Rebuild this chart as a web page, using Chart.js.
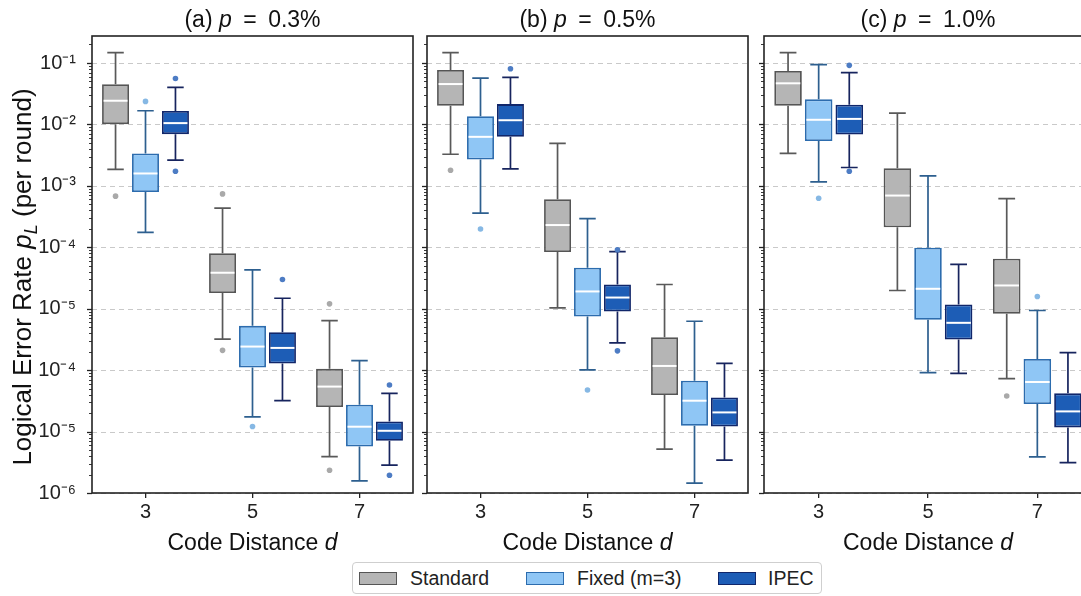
<!DOCTYPE html>
<html lang="en">
<head>
  <meta charset="UTF-8" />
  <title>Logical Error Rate vs Code Distance</title>
  <script src="https://cdn.jsdelivr.net/npm/chart.js"></script>
  <style>
    html, body { margin: 0; padding: 0; background: #fff; overflow: hidden; }
    body {
      width: 1081px;
      height: 596px;
      position: relative;
      font-family: 'Liberation Sans', Arial, sans-serif;
    }
    .panel { position: absolute; top: 0; height: 556px; }
    #pa { left: 0; width: 415px; }
    #pb { left: 420px; width: 330px; }
    #pc { left: 757px; width: 337px; }

    .legend {
      position: absolute;
      left: 352px;
      top: 562px;
      width: 470px;
      height: 32px;
      border: 1px solid #cfcfcf;
      border-radius: 4px;
      box-sizing: border-box;
      background: #fff;
    }
    .legend .sw {
      position: absolute;
      top: 9px;
      width: 38px;
      height: 13px;
      box-sizing: border-box;
      border: 1.5px solid;
    }
    .legend .lb {
      position: absolute;
      top: 4px;
      font-size: 19.5px;
      line-height: 22px;
      color: #222;
    }
  </style>
</head>
<body>
  <div class="panel" id="pa"><canvas id="chartA"></canvas></div>
  <div class="panel" id="pb"><canvas id="chartB"></canvas></div>
  <div class="panel" id="pc"><canvas id="chartC"></canvas></div>

  <div class="legend">
    <div class="sw" style="left:6px;background:#b5b5b5;border-color:#555"></div>
    <div class="lb" style="left:57px">Standard</div>
    <div class="sw" style="left:173px;background:#8fc6f5;border-color:#2c6cae"></div>
    <div class="lb" style="left:224px">Fixed (m=3)</div>
    <div class="sw" style="left:365px;background:#1d5db6;border-color:#10266a"></div>
    <div class="lb" style="left:415px">IPEC</div>
  </div>

  <script>
    // categories / ticks
    const distances = ['3', '5', '7'];
    const panelLetters = ['(a)', '(b)', '(c)'];
    const panelRates = ['0.3%', '0.5%', '1.0%'];
    const yTickValues = [1e-1, 1e-2, 1e-3, 1e-4, 1e-5, 1e-6, 1e-7, 1e-8];
    const yTickLabels = ['10⁻¹', '10⁻²', '10⁻³', '10⁻⁴', '10⁻⁵', '10⁻⁴', '10⁻⁵', '10⁻⁶'];

    // box summaries per distance: [lower whisker, Q1, median, Q3, upper whisker]
    // (a) p = 0.3%
    const standardA = [
      [1.85e-3, 1.01e-2, 2.43e-2, 4.5e-2, 1.47e-1],
      [3.2e-6, 1.8e-5, 3.85e-5, 8.0e-5, 4.35e-4],
      [3.9e-8, 2.5e-7, 5.4e-7, 1.05e-6, 6.4e-6]
    ];
    const fixedA = [
      [1.75e-4, 7.96e-4, 1.59e-3, 3.37e-3, 1.67e-2],
      [1.74e-7, 1.1e-6, 2.42e-6, 5.26e-6, 4.3e-5],
      [1.57e-8, 5.7e-8, 1.2e-7, 2.74e-7, 1.43e-6]
    ];
    const ipecA = [
      [2.62e-3, 6.95e-3, 1.05e-2, 1.65e-2, 4.0e-2],
      [3.18e-7, 1.28e-6, 2.3e-6, 4.14e-6, 1.48e-5],
      [2.84e-8, 7.1e-8, 1.03e-7, 1.46e-7, 4.19e-7]
    ];
    const standardAOut = [[6.8e-4], [7.4e-4, 2.1e-6], [1.2e-5, 2.35e-8]];
    const fixedAOut = [[2.37e-2], [1.21e-7], []];
    const ipecAOut = [[5.6e-2, 1.73e-3], [2.99e-5], [5.74e-7, 1.95e-8]];

    // (b) p = 0.5%
    const standardB = [
      [3.27e-3, 2.01e-2, 4.54e-2, 7.69e-2, 1.47e-1],
      [1.03e-5, 8.36e-5, 2.3e-4, 6.04e-4, 4.9e-3],
      [5.19e-8, 3.94e-7, 1.17e-6, 3.43e-6, 2.48e-5]
    ];
    const fixedB = [
      [3.61e-4, 2.69e-3, 6.28e-3, 1.36e-2, 5.69e-2],
      [1.01e-6, 7.46e-6, 1.91e-5, 4.65e-5, 2.93e-4],
      [1.45e-8, 1.24e-7, 3.18e-7, 6.75e-7, 6.25e-6]
    ];
    const ipecB = [
      [1.89e-3, 6.28e-3, 1.17e-2, 2.14e-2, 5.85e-2],
      [2.78e-6, 9.0e-6, 1.52e-5, 2.48e-5, 8.47e-5],
      [3.43e-8, 1.21e-7, 2.05e-7, 3.6e-7, 1.29e-6]
    ];
    const standardBOut = [[1.79e-3], [], []];
    const fixedBOut = [[1.98e-4], [4.75e-7], []];
    const ipecBOut = [[8.07e-2], [2.06e-6, 9.1e-5], []];

    // (c) p = 1.0%
    const standardC = [
      [3.37e-3, 2.01e-2, 4.67e-2, 7.4e-2, 1.47e-1],
      [1.98e-5, 2.11e-4, 6.95e-4, 1.94e-3, 1.53e-2],
      [7.26e-7, 8.26e-6, 2.39e-5, 6.52e-5, 6.21e-4]
    ];
    const fixedC = [
      [1.16e-3, 5.35e-3, 1.19e-2, 2.56e-2, 9.38e-2],
      [9.1e-7, 6.59e-6, 2.11e-5, 9.84e-5, 1.45e-3],
      [3.88e-8, 2.81e-7, 6.41e-7, 1.52e-6, 9.35e-6]
    ];
    const ipecC = [
      [1.99e-3, 6.87e-3, 1.23e-2, 2.09e-2, 6.95e-2],
      [8.87e-7, 3.15e-6, 5.89e-6, 1.17e-5, 5.26e-5],
      [3.13e-8, 1.17e-7, 2.13e-7, 4.19e-7, 1.93e-6]
    ];
    const standardCOut = [[], [], [3.79e-7]];
    const fixedCOut = [[6.28e-4], [], [1.58e-5]];
    const ipecCOut = [[9.16e-2, 1.73e-3], [], []];

    const FONT = "'Liberation Sans', Arial, sans-serif";
    const seriesStyle = [
      { fill: '#b5b5b5', edge: '#555555', whisker: '#595959', dot: '#a9a9a9' },
      { fill: '#8fc6f5', edge: '#2c6cae', whisker: '#2d5f8f', dot: '#86b8e4' },
      { fill: '#1d5db6', edge: '#10266a', whisker: '#17245e', dot: '#4d7cc4' }
    ];

    function drawRich(ctx, parts, cx, cy, size, rotate) {
      ctx.save();
      ctx.translate(cx, cy);
      if (rotate) ctx.rotate(-Math.PI / 2);
      ctx.fillStyle = '#111';
      ctx.textBaseline = 'alphabetic';
      const fontFor = p => (p.italic ? 'italic ' : '') + (p.sub ? size * 0.7 : size) + 'px ' + FONT;
      let total = 0;
      parts.forEach(p => { ctx.font = fontFor(p); p.w = ctx.measureText(p.text).width; total += p.w; });
      let x = -total / 2;
      parts.forEach(p => {
        ctx.font = fontFor(p);
        ctx.fillText(p.text, x, size * 0.36 + (p.sub ? size * 0.22 : 0));
        x += p.w;
      });
      ctx.restore();
    }

    const boxPlugin = {
      id: 'boxWhiskers',
      beforeDatasetsDraw(chart) {
        const { ctx, chartArea: a, scales: { y } } = chart;
        ctx.save();
        ctx.strokeStyle = '#c9c9c9';
        ctx.lineWidth = 1;
        ctx.setLineDash([5, 4]);
        yTickValues.forEach(v => {
          const py = Math.round(y.getPixelForValue(v)) + 0.5;
          ctx.beginPath();
          ctx.moveTo(a.left, py);
          ctx.lineTo(a.right, py);
          ctx.stroke();
        });
        ctx.restore();
      },
      afterDatasetsDraw(chart) {
        const { ctx, scales: { y } } = chart;
        ctx.save();
        chart.data.datasets.forEach((ds, i) => {
          const meta = chart.getDatasetMeta(i);
          const st = seriesStyle[i];
          meta.data.forEach((bar, j) => {
            const [lo, q1, med, q3, hi] = ds.stats[j];
            const x = bar.x, w = bar.width, cap = w / 2;
            ctx.strokeStyle = st.whisker;
            ctx.lineWidth = 1.7;
            ctx.beginPath();
            ctx.moveTo(x, y.getPixelForValue(q3)); ctx.lineTo(x, y.getPixelForValue(hi));
            ctx.moveTo(x - cap / 2 - 1.5, y.getPixelForValue(hi)); ctx.lineTo(x + cap / 2 + 1.5, y.getPixelForValue(hi));
            ctx.moveTo(x, y.getPixelForValue(q1)); ctx.lineTo(x, y.getPixelForValue(lo));
            ctx.moveTo(x - cap / 2 - 1.5, y.getPixelForValue(lo)); ctx.lineTo(x + cap / 2 + 1.5, y.getPixelForValue(lo));
            ctx.stroke();
            ctx.strokeStyle = '#ffffff';
            ctx.lineWidth = 2;
            ctx.beginPath();
            ctx.moveTo(x - w / 2 + 1.5, y.getPixelForValue(med));
            ctx.lineTo(x + w / 2 - 1.5, y.getPixelForValue(med));
            ctx.stroke();
            ctx.fillStyle = st.dot;
            ds.outliers[j].forEach(v => {
              ctx.beginPath();
              ctx.arc(x, y.getPixelForValue(v), 2.8, 0, Math.PI * 2);
              ctx.fill();
            });
          });
        });
        ctx.restore();
      },
      afterDraw(chart) {
        const { ctx, chartArea: a, scales: { y } } = chart;
        const opts = chart.options.plugins.boxWhiskers;
        ctx.save();
        // y tick marks, major + minor
        ctx.strokeStyle = '#222';
        for (let e = 0; e >= -8; e--) {
          for (let m = 1; m <= 9; m++) {
            const v = m * Math.pow(10, e - 1);
            if (v < y.min || v > y.max) continue;
            const py = Math.round(y.getPixelForValue(v)) + 0.5;
            const len = m === 1 ? 5 : 3;
            ctx.lineWidth = m === 1 ? 1.3 : 0.9;
            ctx.beginPath();
            ctx.moveTo(a.left - len, py);
            ctx.lineTo(a.left, py);
            ctx.stroke();
          }
        }
        // frame
        ctx.lineWidth = 1.6;
        ctx.strokeStyle = '#222';
        ctx.strokeRect(a.left, a.top, a.right - a.left, a.bottom - a.top);
        ctx.restore();

        const cx = (a.left + a.right) / 2;
        drawRich(ctx, [
          { text: panelLetters[opts.panel] + ' ' },
          { text: 'p', italic: true },
          { text: '\u2002=\u2002' + panelRates[opts.panel] }
        ], cx, 19, 23);
        drawRich(ctx, [
          { text: 'Code Distance ' },
          { text: 'd', italic: true }
        ], cx, 542, 23);
        if (opts.yTitle) {
          drawRich(ctx, [
            { text: 'Logical Error Rate ' },
            { text: 'p', italic: true },
            { text: 'L', italic: true, sub: true },
            { text: ' (per round)' }
          ], 22, 277, 26, true);
        }
      }
    };

    function makePanel(canvasId, panel, boxes, outs, showY) {
      const names = ['Standard', 'Fixed (m=3)', 'IPEC'];
      new Chart(document.getElementById(canvasId), {
        type: 'bar',
        data: {
          labels: distances,
          datasets: boxes.map((b, i) => ({
            label: names[i],
            data: b.map(s => [s[1], s[3]]),
            stats: b,
            outliers: outs[i],
            backgroundColor: seriesStyle[i].fill,
            borderColor: seriesStyle[i].edge,
            borderWidth: 1.8,
            borderSkipped: false,
            categoryPercentage: 0.84,
            barPercentage: 0.9
          }))
        },
        options: {
          responsive: true,
          maintainAspectRatio: false,
          animation: false,
          layout: { padding: { top: 36, right: 2, left: 0, bottom: 0 } },
          plugins: {
            legend: { display: false },
            tooltip: { enabled: false },
            boxWhiskers: { panel: panel, yTitle: showY }
          },
          scales: {
            x: {
              type: 'category',
              offset: true,
              grid: { display: true, drawOnChartArea: false, drawTicks: true, tickLength: 5, offset: false, color: '#222', lineWidth: 1.3 },
              border: { display: false },
              ticks: { font: { family: FONT, size: 20 }, color: '#222', padding: 2 },
              afterFit(scale) { scale.height = 63; }
            },
            y: {
              type: 'logarithmic',
              min: 1e-8,
              max: 0.275,
              grid: { display: false, drawTicks: false },
              border: { display: false },
              ticks: {
                display: showY,
                autoSkip: false,
                padding: 16,
                color: '#222',
                font: { family: FONT, size: 20 },
                callback: (value) => {
                  const k = Math.round(-Math.log10(value)) - 1;
                  return yTickLabels[k] ?? '';
                }
              },
              afterBuildTicks(scale) { scale.ticks = yTickValues.map(v => ({ value: v })); },
              afterFit(scale) { scale.width = showY ? 92 : 7; }
            }
          }
        },
        plugins: [boxPlugin]
      });
    }

    makePanel('chartA', 0, [standardA, fixedA, ipecA], [standardAOut, fixedAOut, ipecAOut], true);
    makePanel('chartB', 1, [standardB, fixedB, ipecB], [standardBOut, fixedBOut, ipecBOut], false);
    makePanel('chartC', 2, [standardC, fixedC, ipecC], [standardCOut, fixedCOut, ipecCOut], false);
  </script>
</body>
</html>
